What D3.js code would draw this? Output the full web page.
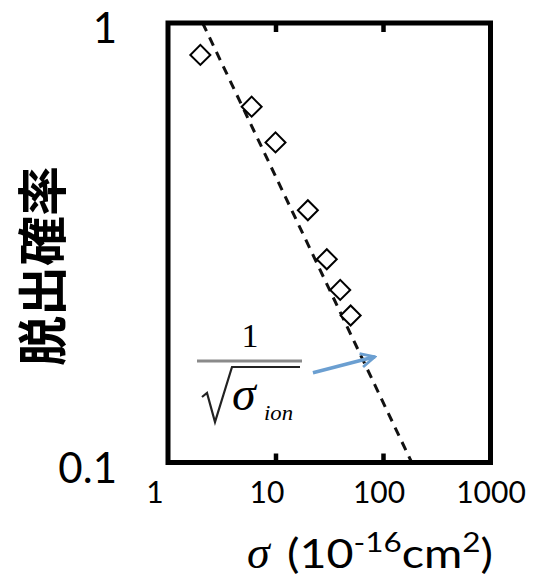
<!DOCTYPE html>
<html>
<head>
<meta charset="utf-8">
<script src="https://cdn.jsdelivr.net/npm/d3@7"></script>
<style>
  body { margin: 0; background: #fff; }
  svg { display: block; }
</style>
</head>
<body>
<div id="chart"></div>
<script>
// measured data (sigma in 1e-16 cm^2, escape probability)
const sigma = [2, 6, 10, 20, 30, 40, 50];
const escapeProb = [0.846, 0.645, 0.535, 0.375, 0.29, 0.247, 0.216];

// 1/sqrt(sigma_ion) guide line, end points
const fitX = [2.1, 185];
const fitY = [1, 0.1];

const xTicks = [1, 10, 100, 1000];
const yTicks = [1, 0.1];

// arrow from the formula to the guide line
const arrowX = [22.3, 84];
const arrowY = [0.16, 0.174];

const width = 534, height = 578;
const plotLeft = 168, plotRight = 490.5, plotTop = 23, plotBottom = 462.5;

const svg = d3.select("#chart").append("svg")
    .attr("width", width)
    .attr("height", height);

const x = d3.scaleLog().domain([1, 1000]).range([plotLeft, plotRight]);
const y = d3.scaleLog().domain([0.1, 1]).range([plotBottom, plotTop]);

// tick labels are spread a bit wider than the ticks in the original
const xLabel = x.copy().range([155, 491]);

// dashed guide line
const fit = fitX.map((v, i) => [v, fitY[i]]);
svg.append("path")
    .datum(fit)
    .attr("d", d3.line().x(d => x(d[0])).y(d => y(d[1])))
    .attr("fill", "none")
    .attr("stroke", "#111")
    .attr("stroke-width", 3)
    .attr("stroke-dasharray", "9,7");

// inward ticks, bottom and top
svg.append("g")
    .attr("transform", `translate(0,${plotBottom})`)
    .call(d3.axisBottom(x).tickValues([10, 100]).tickSize(-9).tickFormat(""))
    .call(g => g.select(".domain").remove())
    .call(g => g.selectAll("line").attr("stroke", "#000").attr("stroke-width", 4.5));

svg.append("g")
    .attr("transform", `translate(0,${plotTop})`)
    .call(d3.axisTop(x).tickValues([10, 100]).tickSize(-9).tickFormat(""))
    .call(g => g.select(".domain").remove())
    .call(g => g.selectAll("line").attr("stroke", "#000").attr("stroke-width", 4.5));

// frame
svg.append("rect")
    .attr("x", plotLeft)
    .attr("y", plotTop)
    .attr("width", plotRight - plotLeft)
    .attr("height", plotBottom - plotTop)
    .attr("fill", "none")
    .attr("stroke", "#000")
    .attr("stroke-width", 5);

// x tick labels
svg.append("g")
    .selectAll("text")
    .data(xTicks)
    .enter().append("text")
    .attr("x", d => xLabel(d))
    .attr("y", plotBottom + 40)
    .attr("text-anchor", "middle")
    .attr("font-family", "Lato, 'Open Sans', sans-serif")
    .attr("font-size", 30)
    .attr("fill", "#000")
    .text(d => d);

// y tick labels
svg.append("g")
    .selectAll("text")
    .data(yTicks)
    .enter().append("text")
    .attr("x", 117)
    .attr("y", d => y(d) + 20)
    .attr("text-anchor", "end")
    .attr("font-family", "Lato, 'Open Sans', sans-serif")
    .attr("font-size", 42)
    .attr("fill", "#000")
    .text(d => d);

// markers: open diamonds
const pts = sigma.map((v, i) => ({ x: v, y: escapeProb[i] }));
svg.append("g")
    .selectAll("path")
    .data(pts)
    .enter().append("path")
    .attr("d", d3.symbol().type(d3.symbolSquare).size(200))
    .attr("transform", d => `translate(${x(d.x)},${y(d.y)}) rotate(45)`)
    .attr("fill", "#fff")
    .attr("stroke", "#000")
    .attr("stroke-width", 2);

// y title
svg.append("text")
    .attr("transform", "translate(39,266) rotate(-90)")
    .attr("text-anchor", "middle")
    .attr("dominant-baseline", "central")
    .attr("font-family", "'Noto Sans CJK JP', sans-serif")
    .attr("font-weight", "bold")
    .attr("font-size", 50)
    .attr("fill", "#000")
    .text("脱出確率");

// x title
svg.append("text")
    .attr("x", 247)
    .attr("y", 568)
    .attr("font-family", "'Liberation Serif', serif")
    .attr("font-style", "italic")
    .attr("font-size", 46)
    .attr("fill", "#000")
    .text("σ");

const xt = svg.append("text")
    .attr("x", 287)
    .attr("y", 568)
    .attr("font-family", "Lato, 'Open Sans', sans-serif")
    .attr("font-size", 40)
    .attr("textLength", 206)
    .attr("lengthAdjust", "spacingAndGlyphs")
    .attr("fill", "#000");
xt.append("tspan").text("(10");
xt.append("tspan").attr("dy", -16).attr("font-size", 27).text("-16");
xt.append("tspan").attr("dy", 16).text("cm");
xt.append("tspan").attr("dy", -16).attr("font-size", 27).text("2");
xt.append("tspan").attr("dy", 16).text(")");

// formula 1/sqrt(sigma_ion)
const f = svg.append("g")
    .attr("font-family", "'Liberation Serif', 'Times New Roman', serif")
    .attr("fill", "#000");
f.append("text")
    .attr("x", 250)
    .attr("y", 347)
    .attr("text-anchor", "middle")
    .attr("font-size", 34)
    .text("1");
f.append("line")
    .attr("x1", 197).attr("x2", 302)
    .attr("y1", 361).attr("y2", 361)
    .attr("stroke", "#8a8a8a")
    .attr("stroke-width", 3);
f.append("path")
    .attr("d", "M202,397 L207,393 L215,422 L232,367 L300,367")
    .attr("fill", "none")
    .attr("stroke", "#222")
    .attr("stroke-width", 2.2);
f.append("text")
    .attr("x", 232)
    .attr("y", 410)
    .attr("font-style", "italic")
    .attr("font-size", 48)
    .text("σ");
f.append("text")
    .attr("x", 264)
    .attr("y", 420)
    .attr("font-style", "italic")
    .attr("font-size", 22)
    .attr("textLength", 29)
    .attr("lengthAdjust", "spacingAndGlyphs")
    .text("ion");

// arrow
svg.append("defs").append("marker")
    .attr("id", "head")
    .attr("viewBox", "0 0 10 10")
    .attr("refX", 9).attr("refY", 5)
    .attr("markerWidth", 5).attr("markerHeight", 5)
    .attr("orient", "auto")
    .append("path")
    .attr("d", "M1,1 L9,5 L1,9")
    .attr("fill", "none")
    .attr("stroke", "#6b9fd1")
    .attr("stroke-width", 1.6);

svg.append("line")
    .attr("x1", x(arrowX[0])).attr("y1", y(arrowY[0]))
    .attr("x2", x(arrowX[1])).attr("y2", y(arrowY[1]))
    .attr("stroke", "#6b9fd1")
    .attr("stroke-width", 3.5)
    .attr("marker-end", "url(#head)");
</script>
</body>
</html>
